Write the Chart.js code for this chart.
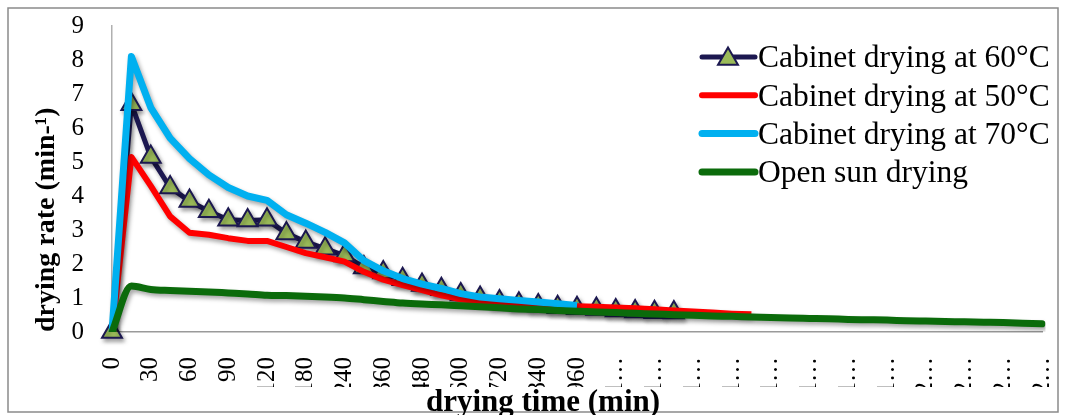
<!DOCTYPE html>
<html lang="en">
<head>
    <meta charset="UTF-8">
    <title>Drying rate</title>
    <script src="https://cdn.jsdelivr.net/npm/chart.js"></script>
    <style>
        body {
            margin: 0;
            background: #ffffff;
        }

        .chart-box {
            width: 1066px;
            height: 415px;
            position: relative;
        }
    </style>
</head>
<body>

    <div class="chart-box">
        <canvas id="dryingChart"></canvas>
    </div>

    <script>
        // drying time (min) - one category per reading
        const times = [0, 15, 30, 45, 60, 75, 90, 105, 120, 150, 180, 210, 240,
            300, 360, 420, 480, 540, 600, 660, 720, 780, 840, 900, 960,
            1020, 1080, 1140, 1200, 1260, 1320, 1380, 1440, 1500, 1560, 1620, 1680,
            1740, 1800, 1860, 1920, 1980, 2040, 2100, 2160, 2220, 2280, 2340, 2400];

        // drying rate (min-1)
        const cabinet60 = [0, 6.7, 5.15, 4.25, 3.85, 3.55, 3.3, 3.28, 3.3, 2.9, 2.65, 2.45, 2.25,
            1.9, 1.75, 1.55, 1.38, 1.26, 1.1, 1.0, 0.9, 0.83, 0.78, 0.73, 0.7,
            0.68, 0.63, 0.6, 0.58, 0.57];
        const cabinet50 = [0, 5.15, 4.3, 3.4, 2.92, 2.86, 2.76, 2.68, 2.68, 2.5, 2.32, 2.2, 2.07,
            1.77, 1.54, 1.38, 1.23, 1.08, 0.96, 0.9, 0.86, 0.83, 0.8, 0.78, 0.76,
            0.74, 0.72, 0.7, 0.67, 0.63, 0.6, 0.57, 0.54, 0.52];
        const cabinet70 = [0, 8.1, 6.6, 5.7, 5.1, 4.62, 4.25, 4.0, 3.87, 3.45, 3.2, 2.93, 2.62,
            2.1, 1.8, 1.57, 1.41, 1.28, 1.13, 1.03, 0.98, 0.93, 0.88, 0.83, 0.78];
        const openSun = [0, 1.35, 1.25, 1.22, 1.2, 1.18, 1.15, 1.12, 1.08, 1.07, 1.05, 1.03, 1.0,
            0.95, 0.9, 0.85, 0.82, 0.8, 0.77, 0.74, 0.71, 0.68, 0.66, 0.63, 0.61,
            0.59, 0.57, 0.55, 0.53, 0.51, 0.49, 0.47, 0.46, 0.44, 0.43, 0.41, 0.4,
            0.39, 0.37, 0.36, 0.35, 0.33, 0.32, 0.31, 0.3, 0.29, 0.28, 0.26, 0.24];

        const yTicks = [0, 1, 2, 3, 4, 5, 6, 7, 8, 9];

        const serif = "'Liberation Serif', 'Times New Roman', serif";

        // long labels are cut short the way the figure shows them
        function shortLabel(t) {
            const s = String(t);
            return s.length > 3 ? s[0] + "\u2026" : s;
        }

        // grey frame round the whole picture
        const framePlugin = {
            id: "frame",
            beforeDraw(chart) {
                const ctx = chart.ctx;
                ctx.save();
                ctx.strokeStyle = "#8a8a8a";
                ctx.lineWidth = 1.5;
                ctx.strokeRect(8, 8, 1050, 404);
                ctx.restore();
            }
        };

        // soft drop shadow under the lines, like the original
        const shadowPlugin = {
            id: "lineShadow",
            beforeDatasetsDraw(chart) {
                const ctx = chart.ctx;
                ctx.save();
                ctx.shadowColor = "rgba(0, 0, 0, 0.35)";
                ctx.shadowBlur = 4;
                ctx.shadowOffsetX = 2;
                ctx.shadowOffsetY = 3;
            },
            afterDatasetsDraw(chart) {
                chart.ctx.restore();
            }
        };

        // legend sits inside the plot, top right
        const legendPlugin = {
            id: "insideLegend",
            afterDraw(chart) {
                const ctx = chart.ctx;
                const rows = [0, 1, 2, 3];
                ctx.save();
                ctx.font = "31.5px " + serif;
                ctx.textBaseline = "middle";
                ctx.textAlign = "left";
                rows.forEach(function (di, row) {
                    const ds = chart.data.datasets[di];
                    const y = 57 + row * 38.3;
                    ctx.strokeStyle = ds.borderColor;
                    ctx.lineWidth = ds.borderWidth;
                    ctx.lineCap = "round";
                    ctx.beginPath();
                    ctx.moveTo(702, y);
                    ctx.lineTo(755, y);
                    ctx.stroke();
                    if (ds.pointStyle === "triangle") {
                        ctx.fillStyle = ds.pointBackgroundColor;
                        ctx.strokeStyle = ds.pointBorderColor;
                        ctx.lineWidth = ds.pointBorderWidth;
                        Chart.helpers.drawPoint(ctx, {
                            pointStyle: "triangle",
                            radius: ds.pointRadius,
                            borderWidth: ds.pointBorderWidth,
                            rotation: 0
                        }, 728, y + 2);
                    }
                    ctx.fillStyle = "#000000";
                    ctx.fillText(ds.label, 758, y + 2);
                });
                ctx.restore();
            }
        };

        const ctx = document.getElementById("dryingChart").getContext("2d");
        new Chart(ctx, {
            type: "line",
            data: {
                labels: times,
                datasets: [
                    {
                        label: "Cabinet drying at 60\u00b0C",
                        data: cabinet60,
                        borderColor: "#1c1850",
                        borderWidth: 5,
                        pointStyle: "triangle",
                        pointRadius: 11.5,
                        pointBackgroundColor: "#9bbb59",
                        pointBorderColor: "#1c1850",
                        pointBorderWidth: 2,
                        borderJoinStyle: "round",
                        clip: false,
                        order: 4
                    },
                    {
                        label: "Cabinet drying at 50\u00b0C",
                        data: cabinet50,
                        borderColor: "#ff0000",
                        borderWidth: 6,
                        pointRadius: 0,
                        borderJoinStyle: "round",
                        order: 3
                    },
                    {
                        label: "Cabinet drying at 70\u00b0C",
                        data: cabinet70,
                        borderColor: "#00b0f0",
                        borderWidth: 7,
                        pointRadius: 0,
                        borderJoinStyle: "round",
                        order: 2
                    },
                    {
                        label: "Open sun drying",
                        data: openSun,
                        borderColor: "#0b6b0b",
                        borderWidth: 7,
                        pointRadius: 0,
                        cubicInterpolationMode: "monotone",
                        borderJoinStyle: "round",
                        borderCapStyle: "round",
                        order: 1
                    }
                ]
            },
            options: {
                responsive: true,
                maintainAspectRatio: false,
                animation: false,
                layout: {
                    padding: { left: 44, top: 26, right: 24, bottom: 0 }
                },
                plugins: {
                    legend: { display: false },
                    tooltip: { enabled: false },
                    title: {
                        display: true,
                        position: "bottom",
                        text: "drying time (min)",
                        color: "#000000",
                        font: { family: serif, size: 31, weight: "bold", lineHeight: 1 },
                        padding: { top: 0, bottom: -3 }
                    }
                },
                scales: {
                    x: {
                        type: "category",
                        grid: { display: true, drawOnChartArea: false, drawTicks: false },
                        border: { display: true, color: "#9a9a9a", width: 1.5 },
                        ticks: {
                            autoSkip: false,
                            minRotation: 90,
                            maxRotation: 90,
                            padding: 25,
                            color: "#000000",
                            font: { family: serif, size: 25 },
                            callback: function (value, index) {
                                return index % 2 === 0 ? shortLabel(times[index]) : "";
                            }
                        },
                        afterFit: function (scale) {
                            scale.height = 55;
                            scale.paddingLeft = 0;
                            scale.paddingRight = 0;
                        }
                    },
                    y: {
                        min: yTicks[0],
                        max: yTicks[yTicks.length - 1],
                        grid: { display: true, drawOnChartArea: false, drawTicks: false },
                        border: { display: true, color: "#b0b0b0", width: 1.5 },
                        ticks: {
                            autoSkip: false,
                            stepSize: 1,
                            padding: 28,
                            color: "#000000",
                            font: { family: serif, size: 25 }
                        },
                        afterBuildTicks: function (scale) {
                            scale.ticks = yTicks.map(v => ({ value: v }));
                        },
                        title: {
                            display: true,
                            text: "drying rate (min-\u00b9)",
                            align: "start",
                            color: "#000000",
                            font: { family: serif, size: 28, weight: "bold", lineHeight: 1 },
                            padding: { top: -11, bottom: 0 }
                        },
                        afterFit: function (scale) {
                            scale.width = 68;
                            scale.paddingTop = 0;
                            scale.paddingBottom = 0;
                        }
                    }
                }
            },
            plugins: [framePlugin, shadowPlugin, legendPlugin]
        });
    </script>

</body>
</html>
